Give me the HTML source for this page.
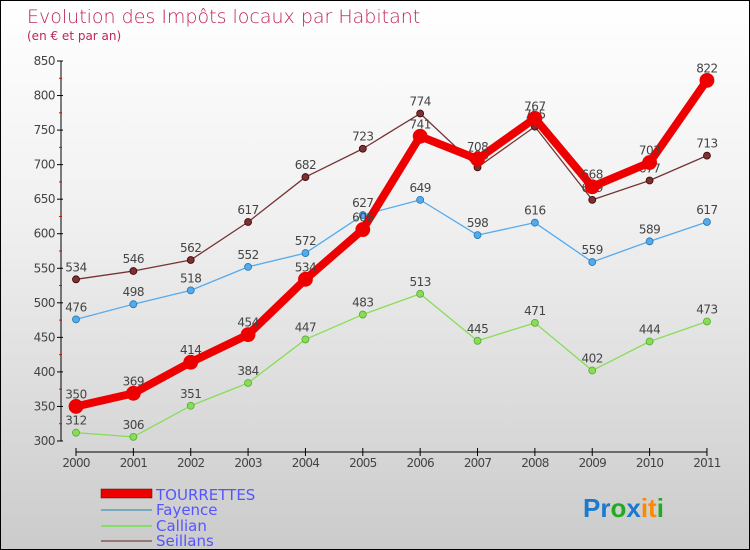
<!DOCTYPE html>
<html><head><meta charset="utf-8"><style>
body{margin:0}
#c{width:748px;height:548px;border:1px solid #000;background:linear-gradient(#fff,#f0f0f0 40%,#cbcbcb);position:relative;overflow:hidden;font-family:"DejaVu Sans","Liberation Sans",sans-serif}
</style></head><body>
<div id="c">
<svg id="s" width="748" height="548">
<text x="26" y="22" font-size="19" fill="#c0245a" font-family="DejaVu Sans, sans-serif" font-weight="200">Evolution des Impôts locaux par Habitant</text>
<text x="26" y="39" font-size="12" fill="#c0245a">(en € et par an)</text>
<g id="axes"></g><g id="series"></g>
<g>
<rect x="100" y="488" width="51" height="9" fill="#e00" stroke="#600" stroke-width="0.5"/>
<text x="155" y="499" font-size="15" fill="#55f">TOURRETTES</text>
<line x1="100" y1="509" x2="151" y2="509" stroke="#7ab" stroke-width="2"/>
<text x="155" y="514" font-size="15" fill="#55f">Fayence</text>
<line x1="100" y1="525" x2="151" y2="525" stroke="#8d6" stroke-width="2"/>
<text x="155" y="530" font-size="15" fill="#55f">Callian</text>
<line x1="100" y1="540" x2="151" y2="540" stroke="#977" stroke-width="2"/>
<text x="155" y="545" font-size="15" fill="#55f">Seillans</text>
</g>
<text x="582" y="516" font-size="26" font-family="Liberation Sans, sans-serif" font-weight="bold"><tspan fill="#1a7ad0">Pr</tspan><tspan fill="#2a2">o</tspan><tspan fill="#1a7ad0">x</tspan><tspan fill="#f80">it</tspan><tspan fill="#2a2">i</tspan></text>
</svg></div>
<script>
const years=["2000","2001","2002","2003","2004","2005","2006","2007","2008","2009","2010","2011"];
const tourrettes=[350,369,414,454,534,606,741,708,767,668,703,822];
const fayence=[476,498,518,552,572,627,649,598,616,559,589,617];
const callian=[312,306,351,384,447,483,513,445,471,402,444,473];
const seillans=[534,546,562,617,682,723,774,696,755,649,677,713];
const yTicks=[300,350,400,450,500,550,600,650,700,750,800,850];
const NS="http://www.w3.org/2000/svg";
const X=i=>75+i*57.36, Y=v=>440-(v-300)*380/550;
function mk(t,a,p){const e=document.createElementNS(NS,t);for(const k in a)e.setAttribute(k,a[k]);p.appendChild(e);return e;}
const ax=document.getElementById('axes'),se=document.getElementById('series');
let l=mk('line',{x1:60,y1:Y(850),x2:60,y2:Y(300),stroke:'#000'},ax);


yTicks.forEach((v,i)=>{
 mk('line',{x1:56,y1:Y(v),x2:62,y2:Y(v),stroke:'#000'},ax);
 if(i<yTicks.length-1)mk('line',{x1:58,y1:Y(v+25),x2:61,y2:Y(v+25),stroke:'#e00'},ax);
 const t=mk('text',{x:54,y:Y(v)+4,'font-size':12,fill:'#444','text-anchor':'end','letter-spacing':'-0.5'},ax);
 t.textContent=v;
 
 
});
l=mk('line',{x1:75,y1:451,x2:706,y2:451,stroke:'#000'},ax);


years.forEach((y,i)=>{
 mk('line',{x1:X(i),y1:447,x2:X(i),y2:455,stroke:'#000'},ax);
 const t=mk('text',{x:X(i),y:466,'font-size':12,fill:'#444','text-anchor':'middle','letter-spacing':'-0.8'},ax);
 t.textContent=y;
 
 
});
function draw(name,data,col,w,r,stroke){
 const g=mk('g',{},se);
 
 
 const p=mk('polyline',{points:data.map((v,i)=>X(i)+','+Y(v)).join(' '),fill:'none',stroke:col,'stroke-width':w,'stroke-linejoin':'round'},g);
 
 
 data.forEach((v,i)=>{
  const c=mk('circle',{cx:X(i),cy:Y(v),r:r,fill:col,stroke:stroke,'stroke-width':0.8},g);
  
  
  const t=mk('text',{x:X(i),y:Y(v)-8,'font-size':12,fill:'#444','text-anchor':'middle','letter-spacing':'-0.5'},g);
  t.textContent=v;
  
  
 });
}
draw('callian',callian,'#8d5','1.3',3.5,'#5a3');
draw('fayence',fayence,'#5ae','1.3',3.5,'#27a');
draw('seillans',seillans,'#733','1.3',3.5,'#400');
draw('tourrettes',tourrettes,'#e00','8',7,'#e00');
</script></body></html>
